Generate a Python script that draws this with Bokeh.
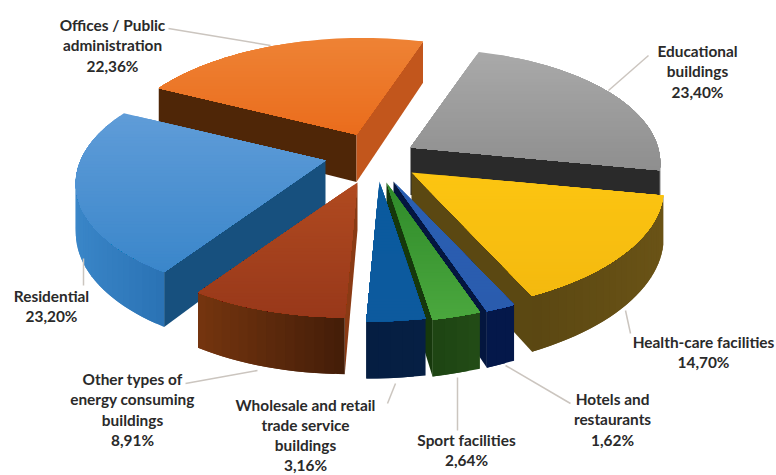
import math

from bokeh.core.properties import value
from bokeh.embed import file_html
from bokeh.models import ColumnDataSource, Range1d
from bokeh.plotting import figure
from bokeh.resources import INLINE

# Share of energy use per building category, in percent, clockwise from the back
categories = ["Educational buildings", "Health-care facilities", "Hotels and restaurants",
              "Sport facilities", "Wholesale and retail trade service buildings",
              "Other types of energy consuming buildings", "Residential",
              "Offices / Public administration"]
shares = [23.40, 14.70, 1.62, 2.64, 3.16, 8.91, 23.20, 22.36]

# Label text broken over rows, in the same order as the categories
label_rows = [["Educational", "buildings"], ["Health-care facilities"],
              ["Hotels and", "restaurants"], ["Sport facilities"],
              ["Wholesale and retail", "trade service", "buildings"],
              ["Other types of", "energy consuming", "buildings"], ["Residential"],
              ["Offices / Public", "administration"]]
label_centers = [(697, 50), (703, 341), (612, 398), (466, 439), (305, 404),
                 (132, 378), (51, 295), (112, 24)]
label_steps = [20.6, 20.6, 20.6, 20.6, 20.1, 20.6, 20.6, 20.6]
leaders = [((648, 55), (608, 90)), ((625, 310), (630, 333)), ((505, 365), (570, 403)),
           ((457, 377), (457, 430)), ((395, 383), (387, 403)), ((185, 383), (257, 370)),
           ((83, 258), (83, 285)), ((168, 28), (270, 45))]

# Camera model for the tilted disc
START_ANGLE = 16.8
RADIUS_X = 250.0
RADIUS_Y = 116.7
PERSPECTIVE = 1 / 6
SHEAR = 8.0
DEPTH = 47.5

# Where each exploded wedge's apex lands on the page, and how far its rim reaches
apexes = [(410, 147), (411, 172), (393, 181), (386, 182), (379, 181), (357, 182),
          (325, 160), (356, 134)]
reach = [0.99, 1.0, 1.0, 1.0, 1.0, 0.97, 0.98, 0.96]

# Per-wedge colours: top face (far, near), rim (left, right), cut faces (start, end)
styles = [
    dict(top=("#a9a9a9", "#8e8e8e"), rim=("#4a4a4a", "#4a4a4a"), cut=("#2a2a2a", "#2a2a2a")),
    dict(top=("#fcc511", "#f4b90f"), rim=("#5a4712", "#6a5316"), cut=("#5b4812", "#5b4812")),
    dict(top=("#2a5fb2", "#2a5cae"), rim=("#04184a", "#04184a"), cut=("#04163f", "#04163f")),
    dict(top=("#2f8a2a", "#4ba83e"), rim=("#1d4412", "#234c16"), cut=("#16380c", "#16380c")),
    dict(top=("#0a5a9e", "#0d5a9e"), rim=("#051e42", "#061f44"), cut=("#0a3564", "#0a3564")),
    dict(top=("#b04a20", "#98381a"), rim=("#75350f", "#431d08"), cut=("#8a3a14", "#8a3a14")),
    dict(top=("#5f9cd8", "#3a86ca"), rim=("#3a86c8", "#2a72b4"), cut=("#17507e", "#2068a4")),
    dict(top=("#ee8234", "#ea6c1c"), rim=("#c2561c", "#c2561c"), cut=("#4f2607", "#c2561c")),
]


def project(apex, angle_deg, radial=1.0, drop=0.0):
    """Map a point of a wedge to the page; angle runs clockwise from the back of the disc."""
    a = math.radians(angle_deg)
    x, y = radial * math.sin(a), radial * math.cos(a)
    w = 1 + PERSPECTIVE * y
    return (apex[0] + (RADIUS_X * x + SHEAR * y) / w,
            apex[1] - RADIUS_Y * y / w + drop / w)


def hex_rgb(c):
    return tuple(int(c[i:i + 2], 16) for i in (1, 3, 5))


def mix(c1, c2, t):
    t = max(0.0, min(1.0, t))
    a, b = hex_rgb(c1), hex_rgb(c2)
    return "#%02x%02x%02x" % tuple(round(a[i] + (b[i] - a[i]) * t) for i in range(3))


def clip_below(poly, level):
    """Keep the part of a polygon at or below a page height (y grows downward)."""
    out = []
    for i, q in enumerate(poly):
        r = poly[(i + 1) % len(poly)]
        if q[1] >= level:
            out.append(q)
        if (q[1] >= level) != (r[1] >= level):
            t = (level - q[1]) / (r[1] - q[1])
            out.append((q[0] + t * (r[0] - q[0]), level))
    return out


def shoelace(poly):
    return sum(poly[i][0] * poly[(i + 1) % len(poly)][1] - poly[(i + 1) % len(poly)][0] * poly[i][1]
               for i in range(len(poly))) / 2


p = figure(width=776, height=475, output_backend="svg", toolbar_location=None,
           x_range=Range1d(0, 776), y_range=Range1d(475, 0),
           x_axis_location=None, y_axis_location=None, min_border=0,
           outline_line_color=None, background_fill_color="white")
p.grid.visible = False

# Wedge spans from the shares
spans = []
angle = START_ANGLE
for s in shares:
    sweep = s / sum(shares) * 360
    spans.append((angle, angle + sweep))
    angle += sweep

# Painting order, far wedges first
paint_order = [7, 0, 6, 1, 2, 3, 4, 5]

xs, ys, fills = [], [], []


def add(poly, color):
    xs.append([q[0] for q in poly])
    ys.append([q[1] for q in poly])
    fills.append(color)


for idx in paint_order:
    a1, a2 = spans[idx]
    apex = apexes[idx]
    style = styles[idx]
    r = reach[idx]
    steps = max(3, int((a2 - a1) / 2))
    arc = [a1 + (a2 - a1) * k / steps for k in range(steps + 1)]
    top_edge = [project(apex, a, r) for a in arc]
    apex_low = (apex[0], apex[1] + DEPTH)

    # Walls: cut face at the start, the rim, cut face at the end
    first_low, last_low = project(apex, a1, r, DEPTH), project(apex, a2, r, DEPTH)
    quad = [apex, top_edge[0], first_low, apex_low]
    if shoelace(quad) < 0:
        add(quad, style["cut"][0])
    quad = [top_edge[-1], apex, apex_low, last_low]
    if shoelace(quad) < 0:
        add(quad, style["cut"][1])
    xmin = min(q[0] for q in top_edge)
    xmax = max(q[0] for q in top_edge)
    # Rim pieces are laid out left to right, each running under its neighbour to hide seams
    rim_pieces = []
    for k in range(steps):
        low1 = project(apex, arc[k], r, DEPTH)
        low2 = project(apex, arc[k + 1], r, DEPTH)
        if shoelace([top_edge[k], top_edge[k + 1], low2, low1]) < 0:
            far = min(k + 2, steps)
            quad = [top_edge[k], top_edge[far], project(apex, arc[far], r, DEPTH), low1]
            t = ((top_edge[k][0] + top_edge[k + 1][0]) / 2 - xmin) / max(1.0, xmax - xmin)
            rim_pieces.append((quad, mix(style["rim"][0], style["rim"][1], t)))
    for quad, color in rim_pieces:
        add(quad, color)

    # Top face: each shade covers everything below it, so bands leave no seams
    face = [apex] + top_edge
    ymin = min(q[1] for q in face)
    ymax = max(q[1] for q in face)
    y = ymin
    while y < ymax:
        band = clip_below(face, y)
        if len(band) >= 3:
            add(band, mix(style["top"][0], style["top"][1], (y - ymin) / (ymax - ymin)))
        y += 3

p.patches("xs", "ys", source=ColumnDataSource(dict(xs=xs, ys=ys, fill=fills)),
          fill_color="fill", line_color=None)

# Leader lines
p.multi_line([[a[0], b[0]] for a, b in leaders], [[a[1], b[1]] for a, b in leaders],
             line_color="#cbc5bf", line_width=1.5)

# Category labels with their percentages
tx, ty, tt = [], [], []
for rows, (cx, cy), step, s in zip(label_rows, label_centers, label_steps, shares):
    for i, row in enumerate(rows + [f"{s:.2f}".replace(".", ",") + "%"]):
        tx.append(cx)
        ty.append(cy + i * step)
        tt.append(row)
p.text(tx, ty, text=tt, text_align="center", text_baseline="middle",
       text_font=value("Lato"), text_font_style="bold", text_font_size="15.4px",
       text_color="#2a2a2a")

open("out.html", "w").write(file_html(p, INLINE))
